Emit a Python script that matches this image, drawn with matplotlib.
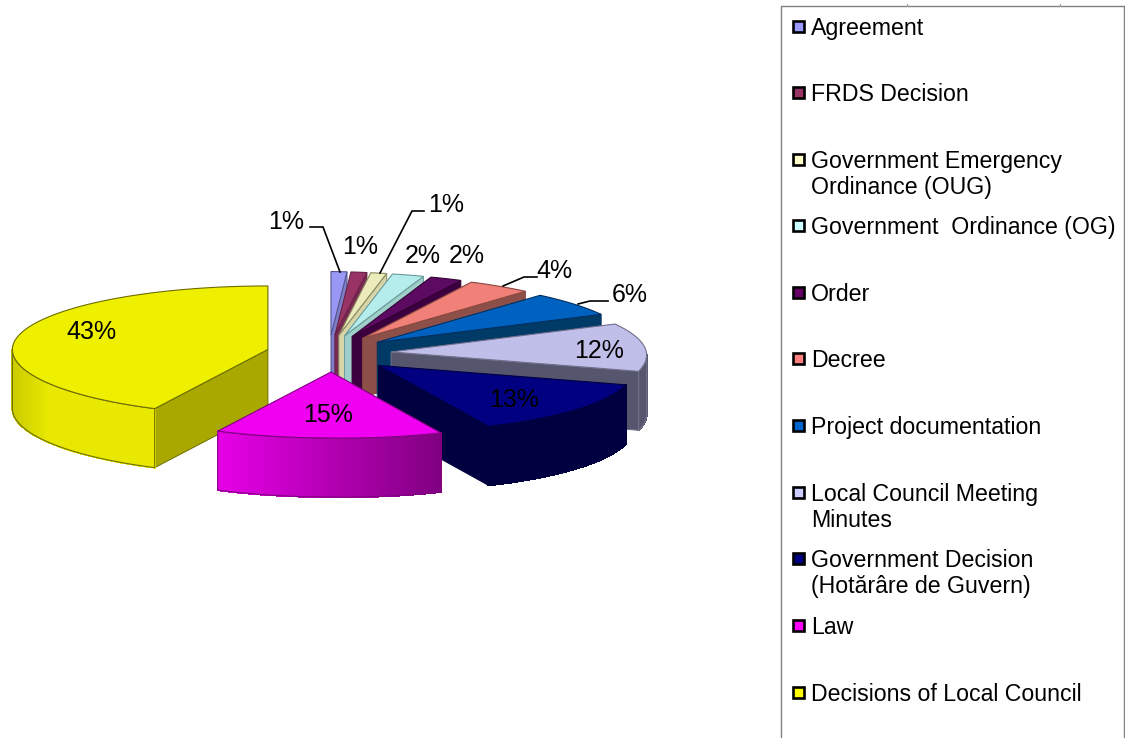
import numpy as np
import matplotlib
matplotlib.use("Agg")
import matplotlib.pyplot as plt
from matplotlib.collections import PolyCollection
from matplotlib.colors import to_rgb
from matplotlib.patches import Polygon, Rectangle

plt.rcParams['font.family'] = ['Liberation Sans', 'DejaVu Sans']

# Shares of each document type, clockwise from twelve o'clock
categories = ["Agreement", "FRDS Decision", "Government Emergency\nOrdinance (OUG)",
              "Government  Ordinance (OG)", "Order", "Decree", "Project documentation",
              "Local Council Meeting\nMinutes", "Government Decision\n(Hotărâre de Guvern)",
              "Law", "Decisions of Local Council"]
shares = [1, 1, 1, 2, 2, 4, 6, 12, 13, 15, 43]

top_colors = ["#9999f5", "#993366", "#ebebbb", "#b5eded", "#5c0a62", "#f08078",
              "#0062c0", "#bfbfea", "#000080", "#f000f0", "#efef00"]
wall_colors = ["#7d7dc8", "#7a2a52", "#d8d6a8", "#9fcfca", "#3c0040", "#8c5048",
               "#003a66", "#55566e", "#000040", "#b000b0", "#a8a800"]
edge_colors = ["#555590", "#662244", "#8a8a60", "#6a9a9a", "#330033", "#884840",
               "#003060", "#70708c", "#000040", "#800080", "#6e6e00"]
legend_colors = ["#9999ff", "#993366", "#ffffcc", "#ccffff", "#660066", "#ff8080",
                 "#0066cc", "#ccccff", "#000080", "#ff00ff", "#ffff00"]
# Outer-rim shading (left side, right side) for the slices that show a rim
rim_shades = {7: ("#55566e", "#55566e"), 8: ("#000040", "#000040"),
              9: ("#e600e6", "#800080"), 10: ("#cccc00", "#e8e800")}
pct_labels = [f"{v}%" for v in shares]

# Page layout in pixels
CX, CY = 329.0, 353.5        # pie centre
RX = 255.5                   # horizontal radius of the projected disc
RY_BACK, RY_FRONT = 63.5, 66.0   # vertical radius behind and in front of the centre
EX, EY = 62.6, 18.5          # explosion offset of every slice
DEPTH = 59.0                 # thickness of the disc
TILT = 0.012                 # slight downward lean of the right-hand side

# Foreshortening of the view: pie angle -> drawn angle
VIEW_IN = [0, 105, 151.2, 205.2, 270, 360]
VIEW_OUT = [0, 105, 154.5, 206.3, 270, 360]

label_xy = [(286, 222), (360, 247), (446, 205), (423, 256), (467, 256), (554, 271),
            (630, 295), (599, 351), (514, 400), (328, 415), (91, 332)]
leaders = {0: [(310, 227), (323, 227), (340, 272)],
           2: [(424, 211), (412, 211), (380, 273)],
           5: [(537, 277), (524, 277), (503, 286)],
           6: [(608, 301), (590, 301), (578, 304)]}
legend_rows = [27, 93, 160, 226, 293, 359, 426, 493, 559, 626, 693]

fig = plt.figure(figsize=(11.25, 7.38), dpi=100)
ax = fig.add_axes([0, 0, 1, 1])
ax.set_xlim(0, 1125)
ax.set_ylim(738, 0)
ax.axis("off")


def lean(x, y):
    return x, y + TILT * max(x - CX, 0.0)


def rim_point(apex, deg):
    t = np.radians(np.interp(deg, VIEW_IN, VIEW_OUT))
    ry = RY_BACK if np.cos(t) > 0 else RY_FRONT
    return lean(apex[0] + RX * np.sin(t), apex[1] - ry * np.cos(t))


def mix(c1, c2, f):
    a, b = np.array(to_rgb(c1)), np.array(to_rgb(c2))
    return tuple(a + (b - a) * f)


edges = np.concatenate([[0], np.cumsum(shares)]) / np.sum(shares) * 360.0
draw_order = [10] + list(range(10))

for i in draw_order:
    start, end = edges[i], edges[i + 1]
    mid = np.radians((start + end) / 2)
    base = (CX + EX * np.sin(mid), CY - EY * np.cos(mid))
    apex = lean(*base)
    z = 2 + draw_order.index(i) * 3
    edge, wall = edge_colors[i], wall_colors[i]

    # Cut faces that turn towards the viewer
    for ang, visible in ((start, np.sin(np.radians(start)) < 0),
                         (end, np.sin(np.radians(end)) > 0)):
        if visible:
            p = rim_point(base, ang)
            quad = [apex, p, (p[0], p[1] + DEPTH), (apex[0], apex[1] + DEPTH)]
            ax.add_patch(Polygon(quad, closed=True, fc=wall, ec=edge, lw=0.7, zorder=z))

    # Outer rim, drawn as narrow shaded strips
    lo, hi = max(start, 90.0), min(end, 270.0)
    if lo < hi:
        th = np.linspace(lo, hi, int(hi - lo) * 2 + 2)
        pts = np.array([rim_point(base, a) for a in th])
        left, right = rim_shades[i]
        xmin, xmax = pts[:, 0].min(), pts[:, 0].max()
        strips, shades = [], []
        for k in range(len(th) - 1):
            p0, p1 = pts[k], pts[k + 1]
            strips.append([p0, p1, (p1[0], p1[1] + DEPTH), (p0[0], p0[1] + DEPTH)])
            f = ((p0[0] + p1[0]) / 2 - xmin) / max(xmax - xmin, 1)
            if i == 10:
                f = min(f * 4, 1.0)
            shades.append(mix(left, right, f))
        ax.add_collection(PolyCollection(strips, facecolors=shades, edgecolors=shades,
                                         linewidths=0.8, antialiaseds=False, zorder=z + 1))
        outline = np.vstack([pts, pts[::-1] + [0, DEPTH]])
        ax.add_patch(Polygon(outline, closed=True, fc="none", ec=edge, lw=0.8, zorder=z + 1))

    # Top surface
    th = np.linspace(start, end, max(int(end - start) * 2, 8))
    outline = [apex] + [rim_point(base, a) for a in th]
    ax.add_patch(Polygon(outline, closed=True, fc=top_colors[i], ec=edge, lw=0.8, zorder=z + 2))

for idx, pts in leaders.items():
    xs, ys = zip(*pts)
    ax.plot(xs, ys, color="black", lw=1.2, zorder=50, solid_joinstyle="miter")

for text, (x, y) in zip(pct_labels, label_xy):
    ax.text(x, y, text, fontsize=18, ha="center", va="center", color="black", zorder=60)

# Legend frame runs past the lower page edge
ax.add_line(plt.Line2D([781, 781, 1124, 1124], [745, 5.5, 5.5, 745], color="#808080", lw=1.0, zorder=70))
for tick_x in (907, 1060):
    ax.add_line(plt.Line2D([tick_x, tick_x], [4, 6], color="#a0a0a0", lw=0.8, zorder=70))

for name, col, y in zip(categories, legend_colors, legend_rows):
    ax.add_patch(Rectangle((793, y - 6), 10.5, 10.5, fc=col, ec="black", lw=1.9, zorder=71))
    ax.text(811, y - 10, name, fontsize=16.65, ha="left", va="top", color="black",
            linespacing=1.17, zorder=71)

fig.savefig("out.png", dpi=100)
